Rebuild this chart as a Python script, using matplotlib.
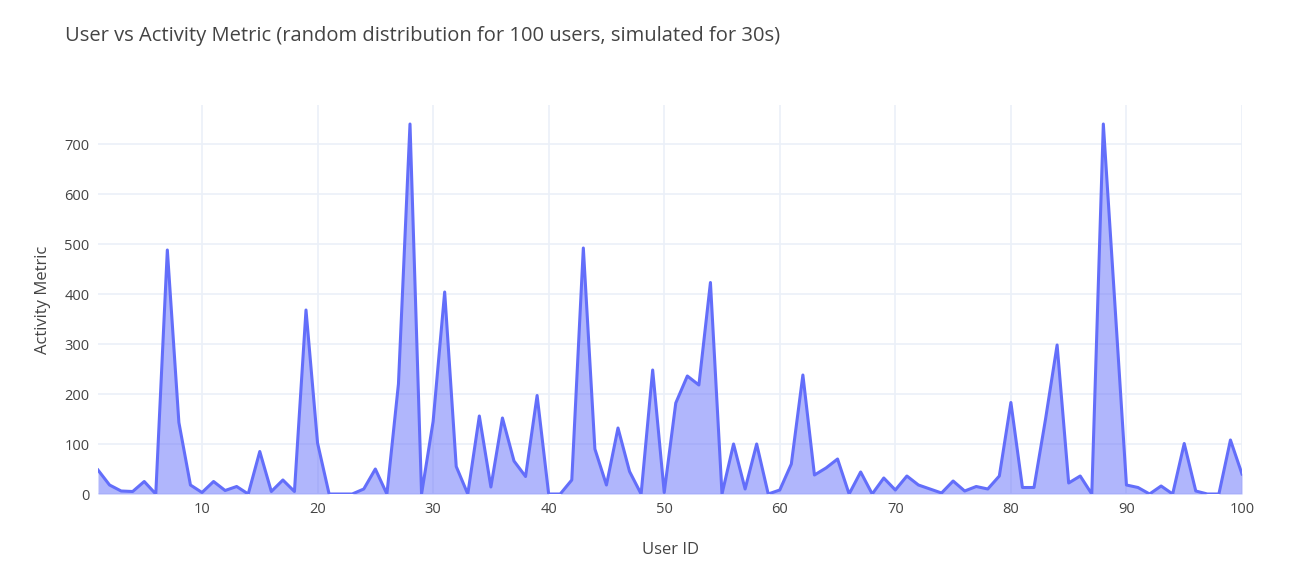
import numpy as np
from matplotlib import pyplot as plt

plt.rcParams['font.family'] = ['Open Sans', 'DejaVu Sans']

user_id = list(range(1, 101))
activity = [48, 18, 6, 5, 25, 0, 488, 143, 18, 3,
            25, 7, 15, 0, 85, 5, 28, 5, 368, 102,
            0, 0, 0, 10, 50, 0, 220, 740, 0, 145,
            404, 55, 0, 156, 14, 152, 66, 35, 197, 0,
            0, 28, 492, 90, 18, 132, 45, 0, 248, 3,
            182, 236, 218, 423, 0, 100, 10, 100, 0, 8,
            60, 238, 38, 52, 70, 0, 44, 0, 32, 8,
            36, 18, 10, 2, 26, 6, 15, 10, 36, 183,
            13, 13, 150, 298, 22, 36, 0, 740, 380, 18,
            13, 0, 16, 0, 101, 6, 0, 0, 108, 40]

fig = plt.figure(figsize=(12.9, 5.71), dpi=100)
ax = fig.add_axes([98 / 1290, 1 - 494 / 571, (1242 - 98) / 1290, (494 - 105) / 571])

ax.fill_between(user_id, activity, color='#636EFA', alpha=0.5, linewidth=0)
ax.plot(user_id, activity, color='#636EFA', linewidth=2.2)

ax.set_xlim(1, 100)
ax.set_ylim(0, 778)
ax.set_xticks([10, 20, 30, 40, 50, 60, 70, 80, 90, 100])
ax.set_yticks([0, 100, 200, 300, 400, 500, 600, 700])
ax.grid(True, color='#EBF0F8', linewidth=1.2)
ax.set_axisbelow(True)
for s in ax.spines.values():
    s.set_visible(False)
ax.tick_params(length=0, labelsize=10.5, labelcolor='#444444', pad=6)

ax.set_xlabel('User ID', fontsize=12, color='#444444', labelpad=18)
ax.set_ylabel('Activity Metric', fontsize=12, color='#444444', labelpad=10)
fig.text(65 / 1290, 1 - 36 / 571, 'User vs Activity Metric (random distribution for 100 users, simulated for 30s)',
         fontsize=14.5, color='#444444', va='center')

fig.savefig('out.png', dpi=100)
